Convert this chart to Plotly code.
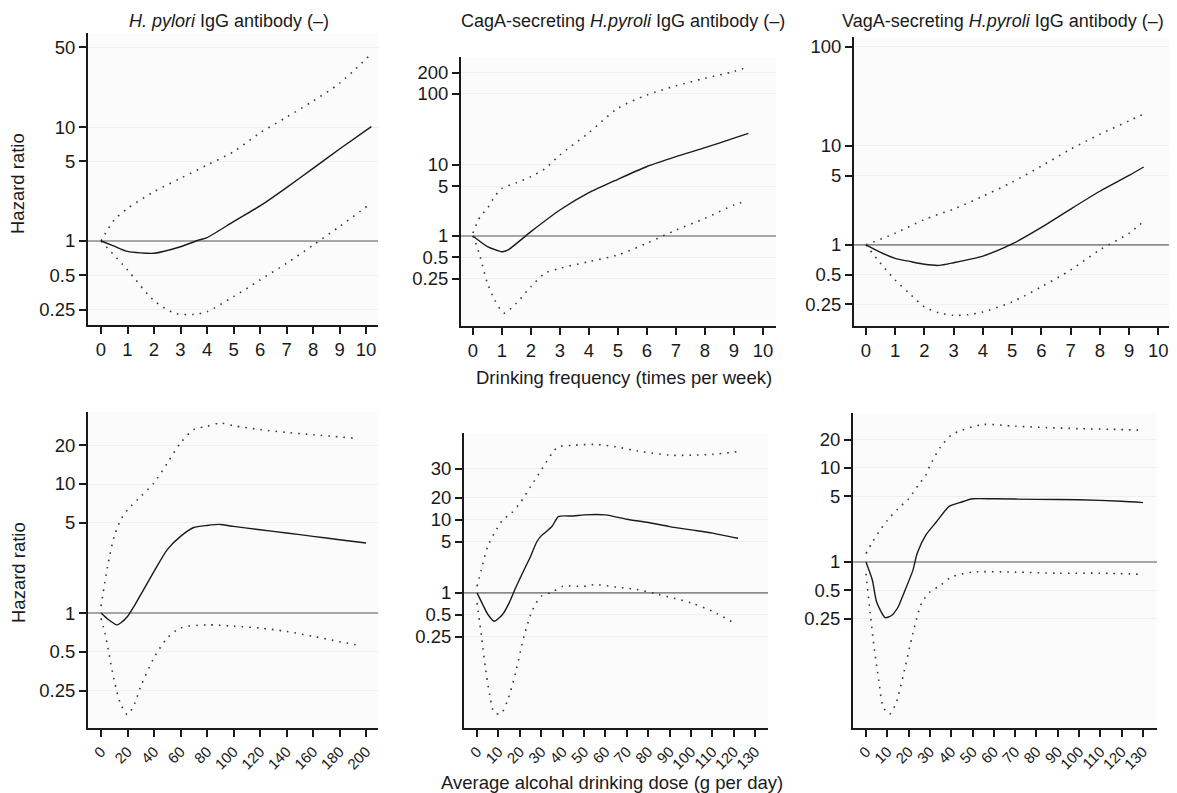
import plotly.graph_objects as go

# ---------------- data ----------------
# Top-left: H. pylori IgG antibody (-) vs drinking frequency
tl_x = [0, 0.5, 1, 2, 3, 3.7, 4, 5, 6, 7, 8, 9, 10.2]
tl_hr = [1, 0.9, 0.81, 0.78, 0.89, 1.02, 1.07, 1.48, 2.03, 2.94, 4.34, 6.41, 10.07]
tl_up_x = [0, 0.5, 1, 2, 3, 4, 5, 6, 7, 8, 9, 10.15]
tl_up = [1, 1.53, 1.93, 2.71, 3.55, 4.64, 6.08, 8.9, 12.2, 16.9, 24.2, 42.9]
tl_lo_x = [0, 1, 2, 2.8, 3.5, 4, 5, 6, 7, 8, 9, 10.1]
tl_lo = [1, 0.557, 0.30, 0.232, 0.227, 0.24, 0.325, 0.455, 0.637, 0.92, 1.34, 2.07]

# Top-middle: CagA-secreting
tm_x = [0, 0.5, 1, 1.2, 2, 3, 4, 5, 6, 7, 8, 9, 9.5]
tm_hr = [1, 0.71, 0.60, 0.63, 1.15, 2.32, 4.07, 6.28, 9.5, 13.1, 17.5, 23.8, 27.9]
tm_up_x = [0, 0.25, 0.5, 0.75, 1, 1.5, 2, 2.5, 3, 4, 5, 6, 7, 8, 9, 9.5]
tm_up = [1.1, 1.87, 2.45, 3.58, 4.69, 5.6, 6.85, 8.96, 13.8, 28.5, 62.9, 96.7, 130, 166, 207, 242]
tm_lo_x = [0, 0.1, 0.25, 0.5, 0.75, 1, 1.1, 1.5, 2, 2.5, 3, 4, 5, 6, 7, 8, 9, 9.4]
tm_lo = [1, 0.79, 0.51, 0.216, 0.126, 0.086, 0.082, 0.113, 0.193, 0.30, 0.35, 0.435, 0.54, 0.79, 1.21, 1.77, 2.73, 3.1]

# Top-right: VagA-secreting
tr_x = [0, 0.5, 1, 1.5, 2, 2.5, 3, 4, 5, 6, 7, 8, 9, 9.5]
tr_hr = [1, 0.84, 0.73, 0.68, 0.636, 0.62, 0.66, 0.77, 1.02, 1.5, 2.3, 3.48, 5.03, 6.12]
tr_up_x = [0, 1, 2, 3, 4, 5, 6, 7, 8, 9, 9.5]
tr_up = [1, 1.31, 1.8, 2.3, 3.1, 4.3, 6.25, 9.25, 13.1, 17.9, 21]
tr_lo_x = [0, 0.5, 1, 1.5, 2, 2.5, 3, 3.5, 4, 5, 6, 7, 8, 9, 9.5]
tr_lo = [1, 0.65, 0.44, 0.32, 0.236, 0.205, 0.194, 0.197, 0.21, 0.265, 0.377, 0.557, 0.89, 1.31, 1.73]

# Bottom-left: H. pylori, dose
bl_x = [0, 5, 12, 15, 20, 25, 30, 40, 50, 60, 70, 80, 90, 100, 120, 140, 160, 180, 200]
bl_hr = [1, 0.90, 0.81, 0.84, 0.94, 1.13, 1.39, 2.1, 3.1, 3.93, 4.6, 4.77, 4.86, 4.69, 4.42, 4.17, 3.93, 3.70, 3.49]
bl_up_x = [0, 5, 10, 15, 20, 30, 40, 50, 60, 70, 80, 90, 100, 120, 140, 160, 190]
bl_up = [1.13, 2.3, 3.93, 5.3, 6.3, 8.0, 10.2, 14.5, 20.8, 26.4, 28, 29.7, 28.3, 26.4, 25.1, 24.1, 22.7]
bl_lo_x = [0, 3, 5, 10, 15, 20, 25, 30, 40, 50, 60, 80, 100, 120, 140, 160, 180, 195]
bl_lo = [0.91, 0.70, 0.55, 0.30, 0.195, 0.163, 0.195, 0.27, 0.45, 0.64, 0.765, 0.81, 0.79, 0.765, 0.72, 0.66, 0.60, 0.56]

# Bottom-middle: CagA-secreting, dose
bm_x = [0, 3, 5, 8, 12, 15, 18, 22, 25, 28, 30, 35, 38, 45, 50, 60, 70, 80, 90, 100, 110, 122]
bm_hr = [1, 0.66, 0.51, 0.41, 0.51, 0.73, 1.17, 2.08, 3.16, 5.06, 6.04, 8.1, 11.1, 11.3, 11.7, 11.7, 10.2, 9.2, 8.1, 7.3, 6.6, 5.6]
bm_up_x = [0, 2, 5, 8, 12, 16, 20, 25, 30, 35, 38, 45, 55, 65, 75, 90, 100, 110, 122]
bm_up = [1.23, 2.08, 4.33, 6.5, 10, 12.3, 16.9, 28.5, 48, 81, 100, 105, 108, 100, 88, 77, 77, 79, 86]
bm_lo_x = [0, 2, 4, 6, 8, 11, 14, 18, 22, 26, 30, 35, 40, 50, 55, 65, 75, 85, 100, 110, 120]
bm_lo = [0.73, 0.26, 0.09, 0.039, 0.023, 0.022, 0.032, 0.081, 0.257, 0.59, 0.90, 1.02, 1.23, 1.23, 1.3, 1.2, 1.11, 0.95, 0.73, 0.56, 0.39]

# Bottom-right: VagA-secreting, dose
br_x = [0, 3, 5, 9, 12, 15, 18, 22, 24, 28, 33, 39, 45, 50, 60, 80, 100, 120, 130]
br_hr = [1, 0.64, 0.375, 0.256, 0.27, 0.33, 0.48, 0.815, 1.23, 1.92, 2.66, 3.9, 4.35, 4.7, 4.7, 4.64, 4.6, 4.42, 4.28]
br_up_x = [0, 3, 6, 10, 15, 20, 25, 28, 30, 35, 40, 45, 55, 70, 85, 100, 115, 130]
br_up = [1.23, 1.63, 2.08, 2.77, 3.69, 4.7, 6.8, 8.3, 10.6, 16.7, 22.3, 25.2, 29, 27.8, 26.9, 26.2, 25.8, 25.2]
br_lo_x = [0, 2, 4, 6, 8, 11, 14, 18, 22, 26, 30, 35, 40, 50, 70, 90, 110, 130]
br_lo = [0.75, 0.28, 0.115, 0.055, 0.029, 0.024, 0.031, 0.07, 0.173, 0.36, 0.48, 0.565, 0.69, 0.78, 0.78, 0.76, 0.76, 0.74]

# tick labels
freq_ticks = list(range(0, 11))
bl_ticks = list(range(0, 201, 20))
dose_ticks = list(range(0, 131, 10))
ytick_tl = [0.25, 0.5, 1, 5, 10, 50]
ytick_tm = [0.25, 0.5, 1, 5, 10, 100, 200]
ytick_tr = [0.25, 0.5, 1, 5, 10, 100]
ytick_bl = [0.25, 0.5, 1, 5, 10, 20]
ytick_bm = [0.25, 0.5, 1, 5, 10, 20, 50]
ytext_bm = ["0.25", "0.5", "1", "5", "10", "20", "30"]
ytick_br = [0.25, 0.5, 1, 5, 10, 20]

titles = ["<i>H. pylori</i> IgG antibody (–)",
          "CagA-secreting <i>H.pyroli</i> IgG antibody (–)",
          "VagA-secreting <i>H.pyroli</i> IgG antibody (–)"]
x_title_top = "Drinking frequency (times per week)"
x_title_bottom = "Average alcohal drinking dose (g per day)"
y_title = "Hazard ratio"

# ---------------- layout geometry ----------------
OFF = 8  # default page body margin
W, H = 1177 - OFF, 793 - OFF
FONT = "Liberation Sans, Arial, Helvetica, sans-serif"
FS = 18.5
FS_ROT = 15
TXT = "#1a1a1a"


def px_x(v):
    return (v - OFF) / W


def px_y(v):
    return 1 - (v - OFF) / H


panels = [
    ((88, 378), (33, 325), [-0.49, 10.45], [-0.737, 1.825],
     (tl_x, tl_hr, tl_up_x, tl_up, tl_lo_x, tl_lo), freq_ticks, ytick_tl, None, 0),
    ((461, 776), (57, 326), [-0.41, 10.45], [-1.268, 2.52],
     (tm_x, tm_hr, tm_up_x, tm_up, tm_lo_x, tm_lo), freq_ticks, ytick_tm, None, 0),
    ((854, 1170), (37, 326), [-0.41, 10.4], [-0.82, 2.1],
     (tr_x, tr_hr, tr_up_x, tr_up, tr_lo_x, tr_lo), freq_ticks, ytick_tr, None, 0),
    ((88, 378), (412, 728), [-9.8, 209], [-0.891, 1.558],
     (bl_x, bl_hr, bl_up_x, bl_up, bl_lo_x, bl_lo), bl_ticks, ytick_bl, None, -45),
    ((464, 768), (433, 728), [-6.1, 136], [-1.85, 2.19],
     (bm_x, bm_hr, bm_up_x, bm_up, bm_lo_x, bm_lo), dose_ticks, ytick_bm, ytext_bm, -45),
    ((853, 1157), (413, 728), [-6.1, 136.6], [-1.766, 1.585],
     (br_x, br_hr, br_up_x, br_up, br_lo_x, br_lo), dose_ticks, ytick_br, None, -45),
]

fig = go.Figure()
layout = dict(
    width=W, height=H, autosize=False,
    margin=dict(l=0, r=0, t=0, b=0, pad=0),
    paper_bgcolor="white", plot_bgcolor="#fbfbfb",
    showlegend=False,
    font=dict(family=FONT, size=FS, color=TXT),
)

for i, (xp, yp, xr, yr, data, xt, yt, ytxt, angle) in enumerate(panels):
    n = i + 1
    xa = "x" if n == 1 else f"x{n}"
    ya = "y" if n == 1 else f"y{n}"
    xs, hr, ux, up, lx, lo = data
    # reference line at HR = 1
    fig.add_trace(go.Scatter(x=[xr[0], xr[1]], y=[1, 1], mode="lines",
                             line=dict(color="#8c8c8c", width=1.6),
                             xaxis=xa, yaxis=ya, hoverinfo="skip"))
    for cx, cy in ((ux, up), (lx, lo)):
        fig.add_trace(go.Scatter(x=cx, y=cy, mode="lines",
                                 line=dict(color="#3a3a3a", width=1.6, dash="1.6px,6px",
                                           shape="spline", smoothing=0.8),
                                 xaxis=xa, yaxis=ya))
    fig.add_trace(go.Scatter(x=xs, y=hr, mode="lines",
                             line=dict(color="#1a1a1a", width=1.4, shape="spline", smoothing=0.6),
                             xaxis=xa, yaxis=ya))

    xkey = "xaxis" if n == 1 else f"xaxis{n}"
    ykey = "yaxis" if n == 1 else f"yaxis{n}"
    layout[xkey] = dict(
        domain=[px_x(xp[0]), min(1, px_x(xp[1]))], anchor=ya, range=xr,
        tickmode="array", tickvals=xt, ticktext=[str(v) for v in xt],
        tickangle=angle, ticks="outside", ticklen=7, tickwidth=1.5, tickcolor=TXT,
        showline=True, linewidth=2, linecolor=TXT,
        showgrid=False, zeroline=False, ticklabeloverflow="allow",
        tickfont=dict(size=FS if angle == 0 else FS_ROT, family=FONT, color=TXT),
    )
    layout[ykey] = dict(
        domain=[px_y(yp[1]), px_y(yp[0])], anchor=xa, type="log", range=yr,
        tickmode="array", tickvals=yt,
        ticktext=ytxt if ytxt else [("%g" % v) for v in yt],
        ticks="outside", ticklen=7, tickwidth=1.5, tickcolor=TXT,
        showline=True, linewidth=2, linecolor=TXT,
        showgrid=True, gridcolor="#efefef", gridwidth=1, zeroline=False,
        tickfont=dict(size=FS, family=FONT, color=TXT),
    )

annotations = []
title_pos = [(229, "center"), (623, "center"), (1166, "right")]
for (tx, anc), t in zip(title_pos, titles):
    annotations.append(dict(text=t, x=px_x(tx), y=px_y(21), xref="paper", yref="paper",
                            showarrow=False, xanchor=anc, yanchor="middle",
                            font=dict(size=18, family=FONT, color=TXT)))
for yc in (184, 573):
    annotations.append(dict(text=y_title, x=px_x(18), y=px_y(yc), xref="paper", yref="paper",
                            showarrow=False, textangle=-90, xanchor="center", yanchor="middle",
                            font=dict(size=FS, family=FONT, color=TXT)))
annotations.append(dict(text=x_title_top, x=px_x(624), y=px_y(377),
                        xref="paper", yref="paper", showarrow=False,
                        xanchor="center", yanchor="middle",
                        font=dict(size=FS, family=FONT, color=TXT)))
annotations.append(dict(text=x_title_bottom, x=px_x(612), y=px_y(782),
                        xref="paper", yref="paper", showarrow=False,
                        xanchor="center", yanchor="middle",
                        font=dict(size=FS, family=FONT, color=TXT)))
layout["annotations"] = annotations

fig.update_layout(**layout)
fig.write_html("out.html")
